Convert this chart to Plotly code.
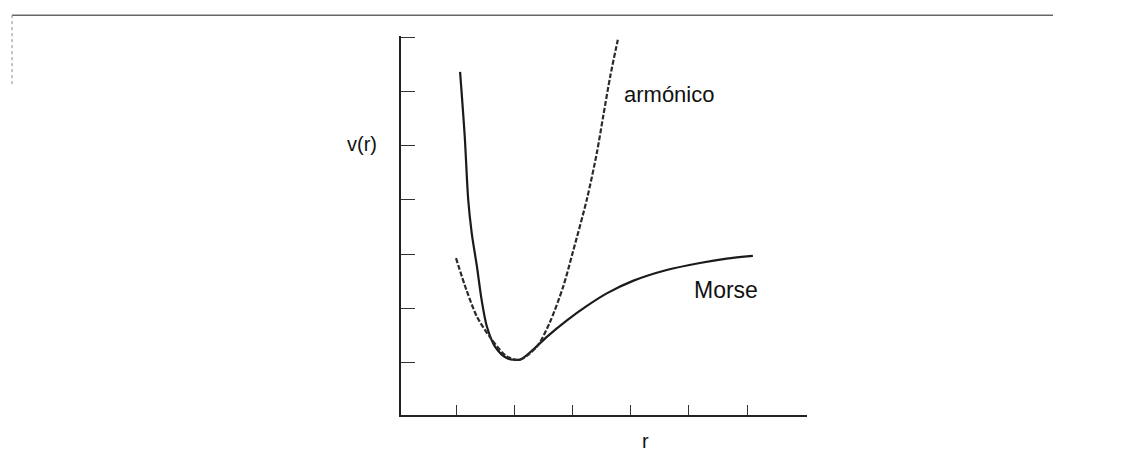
import plotly.graph_objects as go

# Harmonic (armónico) potential
r_harm = [1.00, 1.18, 1.36, 1.58, 1.87, 2.10, 2.39, 2.61, 2.84, 3.01, 3.25, 3.42, 3.53, 3.65, 3.78]
v_harm = [2.93, 2.34, 1.85, 1.48, 1.12, 1.06, 1.30, 1.74, 2.40, 3.05, 4.02, 4.87, 5.55, 6.28, 6.95]

# Morse potential
r_morse = [1.07, 1.15, 1.21, 1.27, 1.36, 1.44, 1.53, 1.67, 1.87, 2.10, 2.32, 2.56, 2.90, 3.25, 3.59,
           4.04, 4.62, 5.19, 5.65, 6.10]
v_morse = [6.36, 5.17, 4.00, 3.39, 2.77, 2.16, 1.67, 1.30, 1.09, 1.06, 1.24, 1.48, 1.78, 2.05, 2.28,
           2.51, 2.71, 2.84, 2.92, 2.97]

x_ticks = [1, 2, 3, 4, 5, 6]
y_ticks = [1, 2, 3, 4, 5, 6, 7]

FONT = "Liberation Sans, Arial, sans-serif"

fig = go.Figure()
fig.add_trace(go.Scatter(x=r_morse, y=v_morse, mode="lines",
                         line=dict(color="#1a1a1a", width=2.2, shape="spline", smoothing=0.8),
                         showlegend=False, hoverinfo="skip"))
fig.add_trace(go.Scatter(x=r_harm, y=v_harm, mode="lines",
                         line=dict(color="#2a2a2a", width=2.2, dash="5px,2px", shape="spline", smoothing=0.8),
                         showlegend=False, hoverinfo="skip"))

fig.add_annotation(x=3.85, y=5.95, text="armónico", showarrow=False, xanchor="left", yanchor="middle",
                   font=dict(family=FONT, size=22, color="#111"))
fig.add_annotation(x=5.06, y=2.35, text="Morse", showarrow=False, xanchor="left", yanchor="middle",
                   font=dict(family=FONT, size=23, color="#111"))
fig.add_annotation(x=-0.096, y=0.715, xref="paper", yref="paper", text="v(r)", showarrow=False,
                   xanchor="center", yanchor="middle",
                   font=dict(family=FONT, size=20, color="#111"))
fig.add_annotation(x=0.601, y=-0.069, xref="paper", yref="paper", text="r", showarrow=False,
                   xanchor="center", yanchor="middle",
                   font=dict(family=FONT, size=20, color="#111"))

# scanned page border fragments
fig.add_shape(type="line", xref="paper", yref="paper", x0=-0.958, x1=1.606, y0=1.055, y1=1.055,
              line=dict(color="#666", width=1.5))
fig.add_shape(type="line", xref="paper", yref="paper", x0=-0.958, x1=-0.958, y0=1.055, y1=0.871,
              line=dict(color="#888", width=1, dash="dot"))

fig.update_xaxes(range=[0.055, 7.03], tickvals=x_ticks, showticklabels=False, ticks="inside",
                 ticklen=10, tickcolor="#333", tickwidth=1, showline=True, linecolor="#222",
                 linewidth=1.5, showgrid=False, zeroline=False, fixedrange=True)
fig.update_yaxes(range=[0.04, 7.02], tickvals=y_ticks, showticklabels=False, ticks="inside",
                 ticklen=14, tickcolor="#333", tickwidth=1, showline=True, linecolor="#222",
                 linewidth=1.5, showgrid=False, zeroline=False, fixedrange=True)

# page is rendered with an 8px body offset; compensate so the plot lands where the reference has it
fig.update_layout(width=1138, height=463, margin=dict(l=393, r=339, t=28, b=56),
                  plot_bgcolor="white", paper_bgcolor="white", showlegend=False)

fig.write_html("out.html")
